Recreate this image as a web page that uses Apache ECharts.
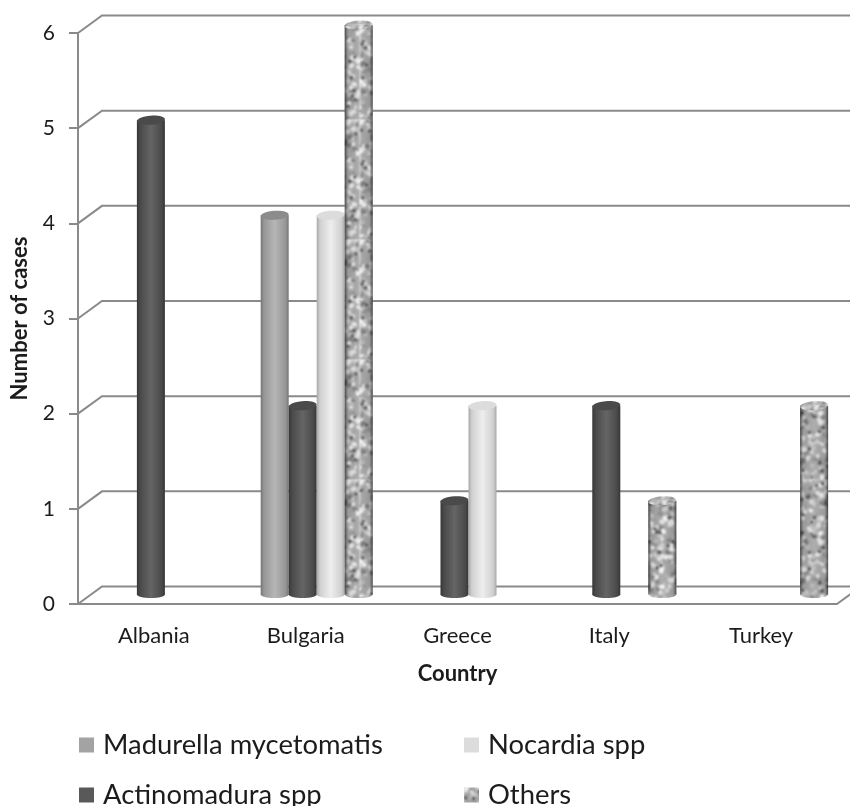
<!DOCTYPE html>
<html>
<head>
<meta charset="utf-8">
<style>
html, body { margin: 0; padding: 0; background: #fff; }
#main { width: 850px; height: 806px; }
</style>
<script src="https://cdn.jsdelivr.net/npm/echarts@6/dist/echarts.min.js"></script>
</head>
<body>
<div id="main"></div>
<script>
var countries = ['Albania', 'Bulgaria', 'Greece', 'Italy', 'Turkey'];
var yTicks = [0, 1, 2, 3, 4, 5, 6];
var madurella = [0, 4, 0, 0, 0];
var actinomadura = [5, 2, 1, 2, 0];
var nocardia = [0, 4, 2, 0, 0];
var others = [0, 6, 0, 1, 2];

var names = ['Madurella mycetomatis', 'Actinomadura spp', 'Nocardia spp', 'Others'];
var values = [madurella, actinomadura, nocardia, others];

var gridColor = '#8a8a8a';
var textColor = '#1c1c1c';
var fontName = 'Lato';

// speckled fill for the "Others" bars
function makeSpeckle() {
    var c = document.createElement('canvas');
    c.width = c.height = 120;
    var ctx = c.getContext('2d');
    ctx.fillStyle = '#a4a4a4';
    ctx.fillRect(0, 0, 120, 120);
    var tones = ['#e0e0e0', '#868686', '#f0f0f0', '#b8b8b8', '#f6f6f6', '#747474', '#cccccc', '#e4e4e4'];
    for (var i = 0; i < 520; i++) {
        var x = (i * 37.3 + 13 * Math.sin(i * 1.7)) % 120;
        var y = (i * 23.9 + 17 * Math.cos(i * 2.3) + 20) % 120;
        var r = 0.9 + 1.5 * Math.abs(Math.sin(i * 0.9));
        ctx.fillStyle = tones[i % tones.length];
        ctx.beginPath();
        ctx.ellipse(x, y, r * 1.3, r, i, 0, Math.PI * 2);
        ctx.fill();
    }
    // small dark flecks on top
    ctx.fillStyle = '#262626';
    for (var j = 0; j < 80; j++) {
        ctx.beginPath();
        ctx.arc((j * 47.7 + 9 * Math.sin(j)) % 120, (j * 31.1 + 11 * Math.cos(j * 1.3) + 15) % 120, 1.4, 0, Math.PI * 2);
        ctx.fill();
    }
    // soften it, the source picture is slightly blurred; neighbours drawn too so the tile has no seam
    var out = document.createElement('canvas');
    out.width = out.height = 120;
    var octx = out.getContext('2d');
    octx.filter = 'blur(0.8px)';
    for (var dx = -120; dx <= 120; dx += 120) {
        for (var dy = -120; dy <= 120; dy += 120) {
            octx.drawImage(c, dx, dy);
        }
    }
    return out;
}
var speckle = { image: makeSpeckle(), repeat: 'repeat' };

function shade(a, b, c) {
    return new echarts.graphic.LinearGradient(0, 0, 1, 0, [
        { offset: 0, color: a }, { offset: 0.12, color: b }, { offset: 0.5, color: c },
        { offset: 0.88, color: b }, { offset: 1, color: a }
    ]);
}
var looks = [
    { legend: '#a3a3a3', body: shade('#767676', '#979797', '#b6b6b6'), top: '#8c8c8c' },
    { legend: '#595959', body: shade('#363636', '#4a4a4a', '#656565'), top: '#4a4a4a' },
    { legend: '#dcdcdc', body: shade('#a8a8a8', '#d0d0d0', '#eeeeee'), top: '#dcdcdc' },
    { legend: speckle, body: speckle, top: speckle }
];
var edgeShade = shade('rgba(30,30,30,0.7)', 'rgba(60,60,60,0.1)', 'rgba(255,255,255,0.1)');

function renderWall(params, api) {
    var p = api.coord([0, api.value(0)]);
    var band = api.size([1, 0])[0];
    var x0 = p[0] - band / 2;
    var x1 = x0 + band * 5;
    var pts = [[x0, p[1]], [x0 + 24, p[1] - 17.5], [x1 + 24, p[1] - 17.5]];
    return {
        type: 'polyline',
        shape: { points: pts },
        style: { stroke: gridColor, lineWidth: 2, fill: null },
        silent: true
    };
}

function renderFloorEnd(params, api) {
    var p = api.coord([4, 0]);
    var band = api.size([1, 0])[0];
    var x1 = p[0] + band / 2;
    return {
        type: 'line',
        shape: { x1: x1, y1: p[1], x2: x1 + 24, y2: p[1] - 17.5 },
        style: { stroke: gridColor, lineWidth: 2 },
        silent: true
    };
}

function makeBarRenderer(idx) {
    return function (params, api) {
        var v = api.value(1);
        if (!v) return null;
        var top = api.coord([api.value(0), v]);
        var base = api.coord([api.value(0), 0]);
        var w = api.size([1, 0])[0] * 0.1845;
        var cx = top[0] + 11 + (idx - 1.5) * w;
        var topY = top[1] - 8;
        var baseY = base[1] - 9.5;
        var rx = w / 2;
        var look = looks[idx];
        var kids = [
            { type: 'ellipse', shape: { cx: cx, cy: baseY, rx: rx, ry: 3.5 }, style: { fill: look.body } },
            { type: 'rect', shape: { x: cx - rx, y: topY, width: w, height: baseY - topY }, style: { fill: look.body } }
        ];
        if (idx === 3) {
            kids.push({ type: 'rect', shape: { x: cx - rx, y: topY, width: w, height: baseY - topY }, style: { fill: edgeShade } });
        }
        kids.push({
            type: 'ellipse',
            shape: { cx: 0, cy: 0, rx: rx, ry: 4.5 },
            x: cx, y: topY, rotation: 0.07,
            style: { fill: look.top }
        });
        return { type: 'group', children: kids };
    };
}

var series = [
    {
        type: 'custom',
        renderItem: renderWall,
        data: yTicks.map(function (t) { return [t]; }),
        encode: { y: 0 },
        z: 1,
        clip: false,
        silent: true
    },
    {
        type: 'custom',
        renderItem: renderFloorEnd,
        data: [[0]],
        encode: { y: 0 },
        z: 1,
        clip: false,
        silent: true
    }
];
names.forEach(function (name, idx) {
    series.push({
        name: name,
        type: 'custom',
        renderItem: makeBarRenderer(idx),
        data: values[idx].map(function (v, i) { return [i, v]; }),
        encode: { x: 0, y: 1 },
        itemStyle: { color: looks[idx].legend },
        z: 3,
        clip: false,
        silent: true
    });
});

var legendSpots = [[79, 727], [79, 777], [464, 727], [464, 777]];
var legends = names.map(function (name, idx) {
    return {
        data: [{ name: name, icon: 'rect' }],
        left: legendSpots[idx][0],
        top: legendSpots[idx][1],
        padding: 0,
        itemWidth: 15,
        itemHeight: 15,
        selectedMode: false,
        textStyle: {
            color: textColor,
            fontFamily: fontName,
            fontSize: 27.4,
            padding: [0, 0, 0, 4],
            lineHeight: 36
        }
    };
});

var myChart = echarts.init(document.getElementById('main'), null, { renderer: 'canvas' });
myChart.setOption({
    animation: false,
    backgroundColor: '#fff',
    grid: { left: 78, right: 13, top: 33, bottom: 202, outerBoundsMode: 'none' },
    legend: legends,
    xAxis: {
        type: 'category',
        data: countries,
        name: 'Country',
        nameLocation: 'middle',
        nameGap: 59,
        nameTextStyle: { color: textColor, fontFamily: fontName, fontSize: 22, fontWeight: 'bold' },
        axisLine: { lineStyle: { color: gridColor, width: 2 } },
        axisTick: { show: false },
        axisLabel: { color: textColor, fontFamily: fontName, fontSize: 22, margin: 21 }
    },
    yAxis: {
        type: 'value',
        min: 0,
        max: 6,
        interval: 1,
        name: 'Number of cases',
        nameLocation: 'middle',
        nameGap: 47,
        nameTextStyle: { color: textColor, fontFamily: fontName, fontSize: 22, fontWeight: 'bold' },
        splitLine: { show: false },
        axisLine: { show: true, lineStyle: { color: gridColor, width: 2 } },
        axisTick: { show: true, length: 9, lineStyle: { color: gridColor, width: 2 } },
        axisLabel: { color: textColor, fontFamily: fontName, fontSize: 21, margin: 23 }
    },
    series: series
});
</script>
</body>
</html>
